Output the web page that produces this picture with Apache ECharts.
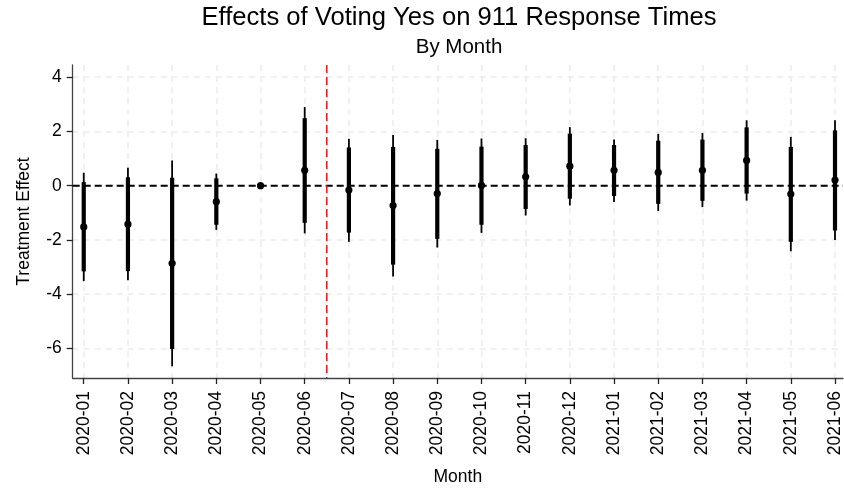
<!DOCTYPE html>
<html>
<head>
<meta charset="utf-8">
<script src="https://cdn.jsdelivr.net/npm/echarts@6/dist/echarts.min.js"></script>
<style>
  html, body { margin: 0; padding: 0; background: #fff; }
  #chart { width: 844px; height: 491px; }
</style>
</head>
<body>
<div id="chart"></div>
<script>
// Monthly event-study estimates with 90% (thick) and 95% (thin) intervals
const months = ['2020-01','2020-02','2020-03','2020-04','2020-05','2020-06',
                '2020-07','2020-08','2020-09','2020-10','2020-11','2020-12',
                '2021-01','2021-02','2021-03','2021-04','2021-05','2021-06'];
const estimate = [-1.52,-1.42,-2.86,-0.59,0,0.57,-0.16,-0.73,-0.29,0.01,0.33,0.72,0.57,0.49,0.57,0.93,-0.31,0.21];
const ci90Low  = [-3.16,-3.15,-6.02,-1.44,0,-1.37,-1.73,-2.91,-1.96,-1.44,-0.86,-0.48,-0.38,-0.67,-0.56,-0.29,-2.07,-1.65];
const ci90High = [0.13,0.31,0.29,0.27,0,2.49,1.41,1.43,1.36,1.44,1.50,1.92,1.50,1.66,1.70,2.15,1.43,2.04];
const ci95Low  = [-3.52,-3.49,-6.66,-1.63,0,-1.76,-2.07,-3.35,-2.28,-1.74,-1.10,-0.73,-0.60,-0.93,-0.79,-0.55,-2.42,-2.00];
const ci95High = [0.48,0.66,0.93,0.45,0,2.90,1.73,1.87,1.69,1.74,1.75,2.16,1.70,1.91,1.94,2.41,1.80,2.41];
const yTicks = [-6,-4,-2,0,2,4];
const nullEffect = 0;
const treatmentStart = 5.5; // between 2020-06 and 2020-07

const FONT = '"Liberation Sans", Arial, sans-serif';
const xTicks = months.map((m, i) => i);
const rows = months.map((m, i) => [i, estimate[i], ci90Low[i], ci90High[i], ci95Low[i], ci95High[i]]);

const chart = echarts.init(document.getElementById('chart'), null, { renderer: 'canvas' });

function renderInterval(params, api) {
  const x = api.value(0);
  const est = api.coord([x, api.value(1)]);
  const lo90 = api.coord([x, api.value(2)]);
  const hi90 = api.coord([x, api.value(3)]);
  const lo95 = api.coord([x, api.value(4)]);
  const hi95 = api.coord([x, api.value(5)]);
  return {
    type: 'group',
    children: [
      { type: 'line', shape: { x1: lo95[0], y1: lo95[1], x2: hi95[0], y2: hi95[1] },
        style: { stroke: '#000', lineWidth: 1.8 } },
      { type: 'line', shape: { x1: lo90[0], y1: lo90[1], x2: hi90[0], y2: hi90[1] },
        style: { stroke: '#000', lineWidth: 4.2 } },
      { type: 'circle', shape: { cx: est[0], cy: est[1], r: 3.6 },
        style: { fill: '#000' } }
    ]
  };
}

// Horizontal dashed line across the plot at a y value
function renderHLine(params, api) {
  const cs = params.coordSys;
  const p = api.coord([0, api.value(0)]);
  return { type: 'line', silent: true,
    shape: { x1: cs.x, y1: p[1], x2: cs.x + cs.width, y2: p[1] },
    style: { stroke: '#000', lineWidth: 1.9, lineDash: [7, 4] } };
}

// Vertical dashed line through the plot at an x value
function renderVLine(params, api) {
  const cs = params.coordSys;
  const p = api.coord([api.value(0), 0]);
  return { type: 'line', silent: true,
    shape: { x1: p[0], y1: cs.y, x2: p[0], y2: cs.y + cs.height },
    style: { stroke: '#ff0000', lineWidth: 1.4, lineDash: [8, 4] } };
}

const gridLine = { color: '#ebebeb', width: 1.5, type: [6, 5] };
const axisText = { color: '#000', fontFamily: FONT, fontSize: 17.5 };
const axisLine = { show: true, onZero: false, lineStyle: { color: '#444', width: 1.3 } };

chart.setOption({
  animation: false,
  backgroundColor: '#fff',
  graphic: [
    { type: 'text', x: 459, y: 5, silent: true,
      style: { text: 'Effects of Voting Yes on 911 Response Times', fill: '#000',
               font: 'normal 25.6px ' + FONT, align: 'center', verticalAlign: 'top' } },
    { type: 'text', x: 459, y: 37, silent: true,
      style: { text: 'By Month', fill: '#000',
               font: 'normal 20.5px ' + FONT, align: 'center', verticalAlign: 'top' } }
  ],
  grid: { left: 72.7, right: 0, top: 65, bottom: 111.3, containLabel: false },
  xAxis: {
    type: 'value',
    min: -0.25,
    max: 17.18,
    name: 'Month',
    nameLocation: 'middle',
    nameGap: 90,
    nameTextStyle: axisText,
    axisLine: axisLine,
    axisTick: { show: true, length: 6, customValues: xTicks, lineStyle: { color: '#222', width: 1.3 } },
    axisLabel: { customValues: xTicks, rotate: 90, margin: 13, formatter: v => months[v] || '', ...axisText },
    splitLine: { show: true, lineStyle: gridLine }
  },
  yAxis: {
    type: 'value',
    min: -7.09,
    max: 4.45,
    name: 'Treatment Effect',
    nameLocation: 'middle',
    nameGap: 40,
    nameRotate: 90,
    nameTextStyle: axisText,
    axisLine: axisLine,
    axisTick: { show: true, length: 6, customValues: yTicks, lineStyle: { color: '#222', width: 1.3 } },
    axisLabel: { customValues: yTicks, margin: 11, ...axisText },
    splitLine: { show: true, lineStyle: gridLine }
  },
  series: [
    { type: 'custom', renderItem: renderHLine, data: [[nullEffect]], encode: { y: 0 }, silent: true, z: 3 },
    { type: 'custom', renderItem: renderVLine, data: [[treatmentStart]], encode: { x: 0 }, silent: true, z: 3 },
    {
      type: 'custom',
      renderItem: renderInterval,
      data: rows,
      encode: { x: 0, y: [1, 2, 3, 4, 5] },
      z: 5
    }
  ]
});
</script>
</body>
</html>
